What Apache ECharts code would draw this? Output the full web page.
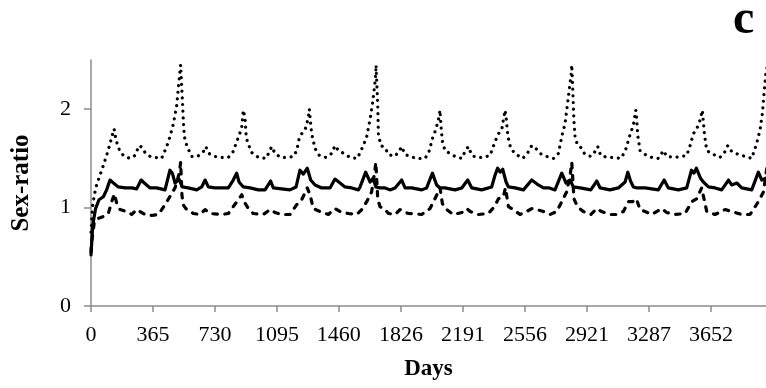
<!DOCTYPE html>
<html>
<head>
<meta charset="utf-8">
<script src="https://cdn.jsdelivr.net/npm/echarts@6/dist/echarts.min.js"></script>
<style>
  html, body { margin: 0; padding: 0; background: #fff; }
  #chart { width: 766px; height: 388px; }
</style>
</head>
<body>
<div id="chart"></div>
<script>
// tick labels
const xTicks = [0, 365, 730, 1095, 1460, 1826, 2191, 2556, 2921, 3287, 3652];
const yTicks = [0, 1, 2];

// [day, sex-ratio]
const upperPts = [
  [0, 0.75], [8, 1.0], [20, 1.13], [33, 1.23], [53, 1.33], [73, 1.43], [92, 1.53], [112, 1.65], [126, 1.74],
  [136, 1.80], [145, 1.71], [157, 1.63], [171, 1.57], [196, 1.52], [230, 1.50], [259, 1.53], [283, 1.63],
  [302, 1.61], [318, 1.56], [348, 1.52], [377, 1.51], [416, 1.50], [446, 1.62], [465, 1.72], [485, 1.85],
  [505, 2.04], [514, 2.21], [524, 2.38], [528, 2.45], [534, 2.24], [540, 2.04], [544, 1.87], [550, 1.72],
  [564, 1.63], [593, 1.52], [628, 1.52], [662, 1.57], [676, 1.62], [695, 1.55], [730, 1.52], [770, 1.51],
  [809, 1.51], [838, 1.57], [854, 1.65], [874, 1.74], [888, 1.82], [897, 1.99], [907, 1.92], [913, 1.75],
  [921, 1.67], [946, 1.56], [986, 1.51], [1031, 1.50], [1051, 1.57], [1064, 1.62], [1084, 1.55], [1117, 1.51],
  [1162, 1.51], [1192, 1.52], [1212, 1.58], [1225, 1.69], [1241, 1.75], [1261, 1.79], [1280, 1.91], [1286, 2.0],
  [1294, 1.85], [1300, 1.75], [1320, 1.60], [1345, 1.53], [1384, 1.51], [1418, 1.55], [1437, 1.63], [1457, 1.58],
  [1490, 1.55], [1526, 1.51], [1569, 1.50], [1604, 1.63], [1624, 1.72], [1644, 1.9], [1657, 2.04], [1669, 2.21],
  [1677, 2.35], [1679, 2.45], [1689, 2.04], [1693, 1.74], [1708, 1.63], [1732, 1.61], [1752, 1.54], [1787, 1.52],
  [1810, 1.56], [1830, 1.62], [1850, 1.54], [1879, 1.52], [1919, 1.50], [1968, 1.50], [1991, 1.57], [2011, 1.70],
  [2030, 1.79], [2046, 1.89], [2056, 1.99], [2062, 1.82], [2070, 1.67], [2085, 1.58], [2115, 1.55], [2144, 1.52],
  [2184, 1.50], [2203, 1.57], [2223, 1.62], [2243, 1.53], [2272, 1.51], [2311, 1.51], [2351, 1.53], [2380, 1.67],
  [2400, 1.75], [2419, 1.79], [2439, 1.99], [2445, 1.92], [2453, 1.77], [2459, 1.70], [2472, 1.60], [2504, 1.54],
  [2543, 1.50], [2570, 1.55], [2596, 1.63], [2616, 1.61], [2645, 1.55], [2684, 1.52], [2724, 1.50], [2753, 1.55],
  [2773, 1.72], [2792, 1.85], [2806, 2.04], [2818, 2.21], [2828, 2.35], [2832, 2.45], [2837, 2.24], [2841, 2.04],
  [2845, 1.87], [2851, 1.72], [2865, 1.64], [2885, 1.61], [2910, 1.54], [2944, 1.52], [2969, 1.57], [2985, 1.62],
  [3002, 1.53], [3042, 1.51], [3081, 1.51], [3120, 1.50], [3146, 1.57], [3175, 1.74], [3195, 1.84], [3209, 1.99],
  [3215, 1.89], [3220, 1.74], [3234, 1.58], [3264, 1.54], [3303, 1.51], [3342, 1.50], [3372, 1.58], [3391, 1.52],
  [3440, 1.51], [3480, 1.52], [3509, 1.53], [3529, 1.63], [3548, 1.75], [3568, 1.80], [3588, 1.89], [3601, 1.99],
  [3607, 1.87], [3613, 1.75], [3627, 1.58], [3666, 1.54], [3705, 1.51], [3735, 1.57], [3751, 1.63], [3774, 1.57],
  [3813, 1.54], [3853, 1.52], [3892, 1.50], [3921, 1.65], [3941, 1.79], [3955, 1.96], [3967, 2.21], [3975, 2.36],
  [3985, 2.45]
];

const meanPts = [
  [0, 0.52], [10, 0.82], [27, 0.99], [47, 1.08], [73, 1.11], [92, 1.18], [112, 1.28], [132, 1.25], [161, 1.21],
  [200, 1.20], [240, 1.20], [269, 1.19], [295, 1.28], [314, 1.25], [348, 1.20], [387, 1.20], [436, 1.18],
  [465, 1.38], [479, 1.35], [495, 1.25], [518, 1.29], [538, 1.21], [573, 1.20], [623, 1.18], [652, 1.21],
  [672, 1.28], [691, 1.21], [730, 1.20], [770, 1.20], [809, 1.20], [838, 1.28], [858, 1.35], [872, 1.26],
  [897, 1.21], [937, 1.20], [986, 1.18], [1025, 1.18], [1058, 1.27], [1074, 1.20], [1123, 1.19], [1172, 1.18],
  [1208, 1.21], [1231, 1.38], [1251, 1.34], [1274, 1.40], [1294, 1.28], [1320, 1.23], [1359, 1.20], [1408, 1.20],
  [1437, 1.29], [1467, 1.25], [1496, 1.21], [1536, 1.20], [1575, 1.18], [1585, 1.21], [1618, 1.36], [1644, 1.26],
  [1663, 1.30], [1677, 1.21], [1702, 1.20], [1732, 1.20], [1761, 1.18], [1791, 1.20], [1830, 1.28], [1850, 1.20],
  [1889, 1.20], [1948, 1.18], [1977, 1.20], [2011, 1.35], [2036, 1.23], [2056, 1.20], [2085, 1.20], [2144, 1.18],
  [2184, 1.20], [2219, 1.28], [2243, 1.20], [2301, 1.18], [2360, 1.21], [2380, 1.33], [2395, 1.40], [2410, 1.36],
  [2425, 1.39], [2445, 1.26], [2459, 1.21], [2498, 1.20], [2547, 1.18], [2596, 1.28], [2635, 1.23], [2665, 1.20],
  [2700, 1.20], [2733, 1.18], [2773, 1.35], [2798, 1.25], [2822, 1.28], [2841, 1.21], [2881, 1.20], [2944, 1.18],
  [2979, 1.27], [2999, 1.20], [3057, 1.18], [3106, 1.20], [3146, 1.26], [3162, 1.36], [3178, 1.27], [3195, 1.21],
  [3215, 1.20], [3264, 1.20], [3342, 1.18], [3376, 1.28], [3401, 1.20], [3460, 1.18], [3509, 1.20], [3537, 1.38],
  [3552, 1.35], [3566, 1.40], [3590, 1.30], [3607, 1.26], [3637, 1.21], [3676, 1.20], [3715, 1.18], [3755, 1.28],
  [3774, 1.23], [3804, 1.25], [3833, 1.20], [3892, 1.18], [3931, 1.36], [3951, 1.28], [3975, 1.30]
];

const lowerPts = [
  [0, 0.55], [4, 0.65], [20, 0.86], [43, 0.89], [73, 0.91], [102, 0.94], [122, 1.06], [138, 1.14], [152, 1.04],
  [171, 0.98], [210, 0.96], [240, 0.93], [269, 0.98], [289, 0.96], [318, 0.93], [357, 0.92], [397, 0.93],
  [436, 1.03], [471, 1.13], [495, 1.20], [520, 1.35], [528, 1.46], [536, 1.12], [546, 1.02], [564, 0.98],
  [603, 0.94], [642, 0.93], [672, 0.98], [701, 0.94], [770, 0.93], [809, 0.94], [838, 1.01], [868, 1.08],
  [888, 1.13], [902, 1.06], [927, 0.99], [956, 0.94], [1015, 0.93], [1055, 0.98], [1084, 0.95], [1123, 0.93],
  [1172, 0.93], [1212, 1.03], [1241, 1.08], [1274, 1.20], [1290, 1.13], [1310, 0.99], [1349, 0.96], [1398, 0.93],
  [1437, 0.99], [1467, 0.96], [1516, 0.94], [1565, 0.93], [1595, 0.98], [1624, 1.06], [1653, 1.16], [1670, 1.35],
  [1678, 1.46], [1689, 1.09], [1702, 1.01], [1732, 0.98], [1752, 0.94], [1791, 0.93], [1820, 0.98], [1840, 0.96],
  [1870, 0.94], [1948, 0.93], [1997, 0.99], [2026, 1.09], [2056, 1.20], [2070, 1.04], [2095, 0.98], [2134, 0.93],
  [2184, 0.95], [2213, 0.99], [2233, 0.96], [2282, 0.93], [2341, 0.94], [2376, 1.01], [2400, 1.09], [2429, 1.11],
  [2441, 1.20], [2459, 1.01], [2488, 0.98], [2527, 0.93], [2566, 0.96], [2596, 0.99], [2625, 0.98], [2665, 0.96],
  [2704, 0.93], [2743, 0.96], [2773, 1.06], [2802, 1.16], [2824, 1.35], [2832, 1.46], [2845, 1.09], [2865, 1.01],
  [2900, 0.96], [2944, 0.93], [2979, 0.99], [3008, 0.96], [3057, 0.93], [3096, 0.93], [3136, 0.96], [3165, 1.06],
  [3190, 1.06], [3212, 1.09], [3234, 0.98], [3264, 0.96], [3303, 0.93], [3362, 0.99], [3391, 0.95], [3440, 0.93],
  [3499, 0.94], [3539, 1.06], [3568, 1.09], [3597, 1.20], [3627, 0.96], [3676, 0.93], [3735, 0.98], [3774, 0.96],
  [3833, 0.93], [3882, 0.93], [3931, 1.06], [3961, 1.16], [3985, 1.45]
];

const serif = '"Liberation Serif", "Times New Roman", serif';
const axisGrey = '#8c8c8c';

const chart = echarts.init(document.getElementById('chart'), null, { renderer: 'canvas' });

const lineSeries = (data, type, width) => ({
  type: 'line',
  data: data,
  showSymbol: false,
  symbol: 'none',
  animation: false,
  lineStyle: { color: '#000', width: width, type: type, cap: 'round', join: 'round' },
});

chart.setOption({
  animation: false,
  grid: { left: 91, right: 0, top: 60, bottom: 82 },
  graphic: [{
    type: 'text',
    left: 733,
    top: -3,
    style: { text: 'c', font: 'bold 48px ' + serif, fill: '#000' },
  }],
  xAxis: {
    type: 'value',
    min: 0,
    max: 3976,
    name: 'Days',
    nameLocation: 'middle',
    nameGap: 52,
    nameTextStyle: { fontFamily: serif, fontSize: 23, fontWeight: 'bold', color: '#000' },
    axisLine: { lineStyle: { color: axisGrey, width: 1.5 } },
    axisTick: { show: true, length: 6, lineStyle: { color: axisGrey, width: 1.5 }, customValues: xTicks },
    axisLabel: {
      customValues: xTicks,
      margin: 18,
      fontFamily: serif,
      fontSize: 22,
      color: '#000',
      formatter: (v) => String(v),
    },
    splitLine: { show: false },
  },
  yAxis: {
    type: 'value',
    min: 0,
    max: 2.5,
    name: 'Sex-ratio',
    nameLocation: 'middle',
    nameRotate: 90,
    nameGap: 57,
    nameTextStyle: { fontFamily: serif, fontSize: 25, fontWeight: 'bold', color: '#000' },
    axisLine: { show: true, lineStyle: { color: axisGrey, width: 1.5 } },
    axisTick: { show: true, length: 7, lineStyle: { color: axisGrey, width: 1.5 }, customValues: yTicks },
    axisLabel: {
      customValues: yTicks,
      margin: 20,
      fontFamily: serif,
      fontSize: 22,
      color: '#000',
    },
    splitLine: { show: false },
  },
  series: [
    lineSeries(upperPts, [0.01, 6.7], 3.2),
    lineSeries(meanPts, 'solid', 3.2),
    lineSeries(lowerPts, [4.5, 7.5], 3.2),
  ],
});
</script>
</body>
</html>
